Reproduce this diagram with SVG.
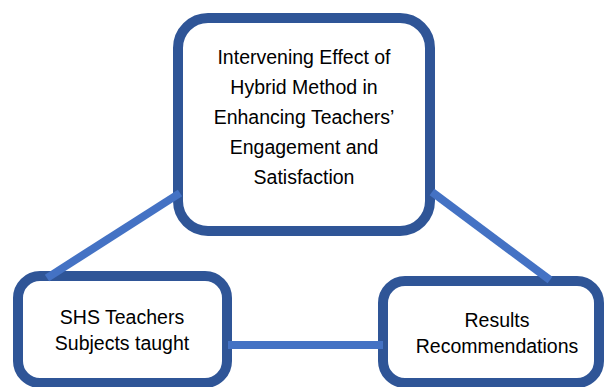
<svg xmlns="http://www.w3.org/2000/svg" width="604" height="387" viewBox="0 0 604 387">
<style>
.box{fill:#ffffff;stroke:#2F5597;stroke-width:10}
.t{font-family:"Liberation Sans",Arial,sans-serif;font-size:19.5px;fill:#000;text-anchor:middle}
.c{stroke:#4472C4;stroke-width:8;fill:none}
</style>
<rect width="604" height="387" fill="#ffffff"/>
<g id="node-center">
<rect class="box" x="178" y="18" width="252" height="213" rx="30"/>
<text class="t" x="304" y="64">Intervening Effect of</text>
<text class="t" x="304" y="94">Hybrid Method in</text>
<text class="t" x="304" y="124">Enhancing Teachers’</text>
<text class="t" x="304" y="154">Engagement and</text>
<text class="t" x="304" y="184">Satisfaction</text>
</g>
<g id="node-left">
<rect class="box" x="18" y="276" width="209" height="107" rx="22"/>
<text class="t" x="122" y="324">SHS Teachers</text>
<text class="t" x="122" y="350">Subjects taught</text>
</g>
<g id="node-right">
<rect class="box" x="383" y="281" width="216" height="102" rx="22"/>
<text class="t" x="497" y="327">Results</text>
<text class="t" x="497" y="353">Recommendations</text>
</g>
<g id="connectors">
<line class="c" x1="47" y1="278" x2="180" y2="193"/>
<line class="c" x1="432" y1="192" x2="550" y2="280"/>
<line class="c" x1="228" y1="345" x2="383" y2="345"/>
</g>
</svg>
